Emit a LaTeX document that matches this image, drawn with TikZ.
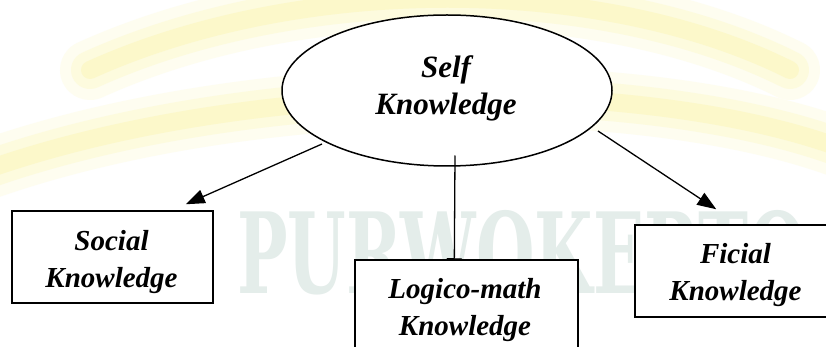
\documentclass[tikz,border=0pt]{standalone}
\usepackage{fontspec}
\setmainfont{Liberation Serif}
\newfontfamily\wmfont{DejaVu Serif}
\usetikzlibrary{shapes.geometric,arrows.meta,calc}
\pgfdeclarelayer{background}
\pgfdeclarelayer{foreground}
\pgfsetlayers{background,main,foreground}
\definecolor{bandcore}{RGB}{252,248,202}
\definecolor{bandmid}{RGB}{253,251,222}
\definecolor{bandedge}{RGB}{254,253,240}
\definecolor{wmcol}{RGB}{228,237,234}
\begin{document}
\begin{tikzpicture}[x=1pt,y=-1pt,
  lbl/.style={font=\fontsize{29}{37}\selectfont\bfseries\itshape, align=center, inner sep=0pt, anchor=base},
  bigl/.style={font=\fontsize{31}{37}\selectfont\bfseries\itshape, align=center, inner sep=0pt, anchor=base},
  kbox/.style={draw, line width=1.5pt, fill=white, inner sep=0pt},
  arr/.style={-{Triangle[length=19pt,width=14pt]}, line width=1.3pt},
  band/.style={line cap=round}]
\useasboundingbox (0,0) rectangle (826,347);
\begin{pgfonlayer}{background}
  \fill[white] (0,0) rectangle (826,347);
  \begin{scope}
    \clip (0,0) rectangle (826,347);
    \foreach \w/\c in {60/bandedge, 38/bandmid, 18/bandcore} {
      \draw[band, line width=\w pt, \c] (-20,172) .. controls (250,75) and (650,75) .. (846,150);
      \draw[band, line width=\w pt, \c] (90,70) .. controls (300,-25) and (600,-25) .. (790,70);
    }
    \node[text=wmcol, font=\wmfont\bfseries\fontsize{112}{112}\selectfont, anchor=base west, xscale=0.6, inner sep=0pt] (wmark) at (237,293) {PURWOKERTO};
  \end{scope}
\end{pgfonlayer}

% top ellipse
\node[draw, ellipse, line width=1.5pt, fill=white, minimum width=330pt, minimum height=151pt, inner sep=0pt] (self) at (447,90.5) {};
\node[bigl] (selftxt) at (446,115) {Self\\Knowledge};

% boxes
\node[kbox, minimum width=201pt, minimum height=92pt] (social) at (112.5,257) {};
\node[lbl] (socialtxt) at (111.5,287) {Social\\Knowledge};

\node[kbox, minimum width=203pt, minimum height=92pt] (ficial) at (736.5,271) {};
\node[lbl] (ficialtxt) at (735.5,300) {Ficial\\Knowledge};

\begin{pgfonlayer}{foreground}
  \node[kbox, minimum width=223pt, minimum height=105pt] (logic) at (466.5,312.5) {};
  \node[lbl] (logictxt) at (465,335) {Logico-math\\Knowledge};
\end{pgfonlayer}

% connectors
\draw[arr] ($(self.center)+(-125,53.5)$) -- ($(social.north east)+(-28,-6)$);
\draw[arr] ($(self.center)+(151,40.5)$) -- ($(ficial.north west)+(82,-15)$);
\draw[-{Triangle[length=13pt,width=15pt]}, line width=1.3pt] ($(self.center)+(8,65)$) -- ($(logic.north west)+(100,12)$);
\end{tikzpicture}
\end{document}
